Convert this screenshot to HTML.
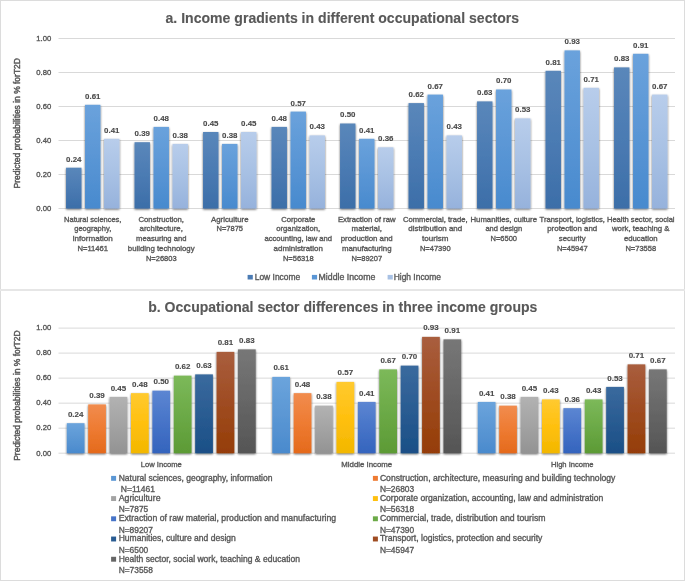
<!DOCTYPE html>
<html><head><meta charset="utf-8"><style>
html,body{margin:0;padding:0;background:#fff;}
svg{display:block;font-family:"Liberation Sans",sans-serif;filter:blur(0.35px);}
</style></head><body>
<svg width="685" height="581" viewBox="0 0 685 581">
<defs><linearGradient id="ga0" x1="0" y1="0" x2="0" y2="1"><stop offset="0" stop-color="#5a87ba"/><stop offset="0.5" stop-color="#4b7bb3"/><stop offset="1" stop-color="#3c6ea8"/></linearGradient><linearGradient id="ga1" x1="0" y1="0" x2="0" y2="1"><stop offset="0" stop-color="#6aa2dc"/><stop offset="0.5" stop-color="#5a96d5"/><stop offset="1" stop-color="#488ace"/></linearGradient><linearGradient id="ga2" x1="0" y1="0" x2="0" y2="1"><stop offset="0" stop-color="#b8cdeb"/><stop offset="0.5" stop-color="#a8c1e4"/><stop offset="1" stop-color="#96b2dc"/></linearGradient><linearGradient id="gb0" x1="0" y1="0" x2="0" y2="1"><stop offset="0" stop-color="#6ba4dc"/><stop offset="0.5" stop-color="#5b97d4"/><stop offset="1" stop-color="#4a8acd"/></linearGradient><linearGradient id="gb1" x1="0" y1="0" x2="0" y2="1"><stop offset="0" stop-color="#f18c4e"/><stop offset="0.5" stop-color="#ee7b32"/><stop offset="1" stop-color="#e46a1c"/></linearGradient><linearGradient id="gb2" x1="0" y1="0" x2="0" y2="1"><stop offset="0" stop-color="#b2b2b2"/><stop offset="0.5" stop-color="#a3a3a3"/><stop offset="1" stop-color="#939393"/></linearGradient><linearGradient id="gb3" x1="0" y1="0" x2="0" y2="1"><stop offset="0" stop-color="#ffca30"/><stop offset="0.5" stop-color="#ffc00f"/><stop offset="1" stop-color="#f2b700"/></linearGradient><linearGradient id="gb4" x1="0" y1="0" x2="0" y2="1"><stop offset="0" stop-color="#5c86d2"/><stop offset="0.5" stop-color="#4774c8"/><stop offset="1" stop-color="#3464bd"/></linearGradient><linearGradient id="gb5" x1="0" y1="0" x2="0" y2="1"><stop offset="0" stop-color="#7cb95a"/><stop offset="0.5" stop-color="#6caa47"/><stop offset="1" stop-color="#5c9a35"/></linearGradient><linearGradient id="gb6" x1="0" y1="0" x2="0" y2="1"><stop offset="0" stop-color="#3a6a9e"/><stop offset="0.5" stop-color="#2a5c92"/><stop offset="1" stop-color="#1a4f86"/></linearGradient><linearGradient id="gb7" x1="0" y1="0" x2="0" y2="1"><stop offset="0" stop-color="#a95e3e"/><stop offset="0.5" stop-color="#9f4c22"/><stop offset="1" stop-color="#953d06"/></linearGradient><linearGradient id="gb8" x1="0" y1="0" x2="0" y2="1"><stop offset="0" stop-color="#777777"/><stop offset="0.5" stop-color="#666666"/><stop offset="1" stop-color="#555555"/></linearGradient><filter id="sh" x="-50%" y="-50%" width="200%" height="200%"><feGaussianBlur in="SourceAlpha" stdDeviation="1.0"/><feOffset dx="0" dy="0.6" result="b"/><feComponentTransfer><feFuncA type="linear" slope="0.62"/></feComponentTransfer><feMerge><feMergeNode/><feMergeNode in="SourceGraphic"/></feMerge></filter></defs>
<rect width="685" height="581" fill="#fff"/>
<rect x="0.5" y="0.5" width="684" height="580" fill="none" stroke="#dcdcdc"/>
<rect x="0" y="289" width="685" height="2" fill="#e6e6e6"/>
<text x="342.30" y="23.20" font-size="14.67" font-weight="bold" fill="#595959" stroke="#595959" stroke-width="0.12" text-anchor="middle" textLength="353.55" lengthAdjust="spacingAndGlyphs">a. Income gradients in different occupational sectors</text>
<line x1="58.5" y1="38.50" x2="675.0" y2="38.50" stroke="#d9d9d9" stroke-width="1"/>
<text x="51.20" y="40.80" font-size="7.56" fill="#595959" stroke="#595959" stroke-width="0.35" text-anchor="end" textLength="14.89" lengthAdjust="spacingAndGlyphs">1.00</text>
<line x1="58.5" y1="72.50" x2="675.0" y2="72.50" stroke="#d9d9d9" stroke-width="1"/>
<text x="51.20" y="74.80" font-size="7.56" fill="#595959" stroke="#595959" stroke-width="0.35" text-anchor="end" textLength="14.89" lengthAdjust="spacingAndGlyphs">0.80</text>
<line x1="58.5" y1="106.50" x2="675.0" y2="106.50" stroke="#d9d9d9" stroke-width="1"/>
<text x="51.20" y="108.80" font-size="7.56" fill="#595959" stroke="#595959" stroke-width="0.35" text-anchor="end" textLength="14.89" lengthAdjust="spacingAndGlyphs">0.60</text>
<line x1="58.5" y1="140.50" x2="675.0" y2="140.50" stroke="#d9d9d9" stroke-width="1"/>
<text x="51.20" y="142.80" font-size="7.56" fill="#595959" stroke="#595959" stroke-width="0.35" text-anchor="end" textLength="14.89" lengthAdjust="spacingAndGlyphs">0.40</text>
<line x1="58.5" y1="174.50" x2="675.0" y2="174.50" stroke="#d9d9d9" stroke-width="1"/>
<text x="51.20" y="176.80" font-size="7.56" fill="#595959" stroke="#595959" stroke-width="0.35" text-anchor="end" textLength="14.89" lengthAdjust="spacingAndGlyphs">0.20</text>
<line x1="58.5" y1="208.50" x2="675.0" y2="208.50" stroke="#d9d9d9" stroke-width="1"/>
<text x="51.20" y="210.80" font-size="7.56" fill="#595959" stroke="#595959" stroke-width="0.35" text-anchor="end" textLength="14.89" lengthAdjust="spacingAndGlyphs">0.00</text>
<text x="20.30" y="123.30" font-size="8.34" fill="#595959" stroke="#595959" stroke-width="0.45" text-anchor="middle" textLength="130.41" lengthAdjust="spacingAndGlyphs" transform="rotate(-90 20.30 123.30)">Predicted probabilities in % forT2D</text>
<text x="92.75" y="221.50" font-size="7.51" fill="#595959" stroke="#595959" stroke-width="0.35" text-anchor="middle" textLength="57.33" lengthAdjust="spacingAndGlyphs">Natural sciences,</text>
<text x="92.75" y="231.35" font-size="7.51" fill="#595959" stroke="#595959" stroke-width="0.35" text-anchor="middle" textLength="36.98" lengthAdjust="spacingAndGlyphs">geography,</text>
<text x="92.75" y="241.20" font-size="7.51" fill="#595959" stroke="#595959" stroke-width="0.35" text-anchor="middle" textLength="39.98" lengthAdjust="spacingAndGlyphs">information</text>
<text x="92.75" y="251.05" font-size="7.51" fill="#595959" stroke="#595959" stroke-width="0.35" text-anchor="middle" textLength="30.71" lengthAdjust="spacingAndGlyphs">N=11461</text>
<text x="161.25" y="221.50" font-size="7.51" fill="#595959" stroke="#595959" stroke-width="0.35" text-anchor="middle" textLength="45.57" lengthAdjust="spacingAndGlyphs">Construction,</text>
<text x="161.25" y="231.35" font-size="7.51" fill="#595959" stroke="#595959" stroke-width="0.35" text-anchor="middle" textLength="43.24" lengthAdjust="spacingAndGlyphs">architecture,</text>
<text x="161.25" y="241.20" font-size="7.51" fill="#595959" stroke="#595959" stroke-width="0.35" text-anchor="middle" textLength="50.28" lengthAdjust="spacingAndGlyphs">measuring and</text>
<text x="161.25" y="251.05" font-size="7.51" fill="#595959" stroke="#595959" stroke-width="0.35" text-anchor="middle" textLength="66.72" lengthAdjust="spacingAndGlyphs">building technology</text>
<text x="161.25" y="260.90" font-size="7.51" fill="#595959" stroke="#595959" stroke-width="0.35" text-anchor="middle" textLength="30.71" lengthAdjust="spacingAndGlyphs">N=26803</text>
<text x="229.75" y="221.50" font-size="7.51" fill="#595959" stroke="#595959" stroke-width="0.35" text-anchor="middle" textLength="37.56" lengthAdjust="spacingAndGlyphs">Agriculture</text>
<text x="229.75" y="231.35" font-size="7.51" fill="#595959" stroke="#595959" stroke-width="0.35" text-anchor="middle" textLength="26.48" lengthAdjust="spacingAndGlyphs">N=7875</text>
<text x="298.25" y="221.50" font-size="7.51" fill="#595959" stroke="#595959" stroke-width="0.35" text-anchor="middle" textLength="34.08" lengthAdjust="spacingAndGlyphs">Corporate</text>
<text x="298.25" y="231.35" font-size="7.51" fill="#595959" stroke="#595959" stroke-width="0.35" text-anchor="middle" textLength="43.89" lengthAdjust="spacingAndGlyphs">organization,</text>
<text x="298.25" y="241.20" font-size="7.51" fill="#595959" stroke="#595959" stroke-width="0.35" text-anchor="middle" textLength="67.62" lengthAdjust="spacingAndGlyphs">accounting, law and</text>
<text x="298.25" y="251.05" font-size="7.51" fill="#595959" stroke="#595959" stroke-width="0.35" text-anchor="middle" textLength="49.35" lengthAdjust="spacingAndGlyphs">administration</text>
<text x="298.25" y="260.90" font-size="7.51" fill="#595959" stroke="#595959" stroke-width="0.35" text-anchor="middle" textLength="30.71" lengthAdjust="spacingAndGlyphs">N=56318</text>
<text x="366.75" y="221.50" font-size="7.51" fill="#595959" stroke="#595959" stroke-width="0.35" text-anchor="middle" textLength="57.61" lengthAdjust="spacingAndGlyphs">Extraction of raw</text>
<text x="366.75" y="231.35" font-size="7.51" fill="#595959" stroke="#595959" stroke-width="0.35" text-anchor="middle" textLength="30.28" lengthAdjust="spacingAndGlyphs">material,</text>
<text x="366.75" y="241.20" font-size="7.51" fill="#595959" stroke="#595959" stroke-width="0.35" text-anchor="middle" textLength="51.98" lengthAdjust="spacingAndGlyphs">production and</text>
<text x="366.75" y="251.05" font-size="7.51" fill="#595959" stroke="#595959" stroke-width="0.35" text-anchor="middle" textLength="49.69" lengthAdjust="spacingAndGlyphs">manufacturing</text>
<text x="366.75" y="260.90" font-size="7.51" fill="#595959" stroke="#595959" stroke-width="0.35" text-anchor="middle" textLength="30.71" lengthAdjust="spacingAndGlyphs">N=89207</text>
<text x="435.25" y="221.50" font-size="7.51" fill="#595959" stroke="#595959" stroke-width="0.35" text-anchor="middle" textLength="64.64" lengthAdjust="spacingAndGlyphs">Commercial, trade,</text>
<text x="435.25" y="231.35" font-size="7.51" fill="#595959" stroke="#595959" stroke-width="0.35" text-anchor="middle" textLength="53.98" lengthAdjust="spacingAndGlyphs">distribution and</text>
<text x="435.25" y="241.20" font-size="7.51" fill="#595959" stroke="#595959" stroke-width="0.35" text-anchor="middle" textLength="26.27" lengthAdjust="spacingAndGlyphs">tourism</text>
<text x="435.25" y="251.05" font-size="7.51" fill="#595959" stroke="#595959" stroke-width="0.35" text-anchor="middle" textLength="30.71" lengthAdjust="spacingAndGlyphs">N=47390</text>
<text x="503.75" y="221.50" font-size="7.51" fill="#595959" stroke="#595959" stroke-width="0.35" text-anchor="middle" textLength="66.58" lengthAdjust="spacingAndGlyphs">Humanities, culture</text>
<text x="503.75" y="231.35" font-size="7.51" fill="#595959" stroke="#595959" stroke-width="0.35" text-anchor="middle" textLength="36.70" lengthAdjust="spacingAndGlyphs">and design</text>
<text x="503.75" y="241.20" font-size="7.51" fill="#595959" stroke="#595959" stroke-width="0.35" text-anchor="middle" textLength="26.48" lengthAdjust="spacingAndGlyphs">N=6500</text>
<text x="572.25" y="221.50" font-size="7.51" fill="#595959" stroke="#595959" stroke-width="0.35" text-anchor="middle" textLength="65.29" lengthAdjust="spacingAndGlyphs">Transport, logistics,</text>
<text x="572.25" y="231.35" font-size="7.51" fill="#595959" stroke="#595959" stroke-width="0.35" text-anchor="middle" textLength="50.06" lengthAdjust="spacingAndGlyphs">protection and</text>
<text x="572.25" y="241.20" font-size="7.51" fill="#595959" stroke="#595959" stroke-width="0.35" text-anchor="middle" textLength="26.74" lengthAdjust="spacingAndGlyphs">security</text>
<text x="572.25" y="251.05" font-size="7.51" fill="#595959" stroke="#595959" stroke-width="0.35" text-anchor="middle" textLength="30.71" lengthAdjust="spacingAndGlyphs">N=45947</text>
<text x="640.75" y="221.50" font-size="7.51" fill="#595959" stroke="#595959" stroke-width="0.35" text-anchor="middle" textLength="67.61" lengthAdjust="spacingAndGlyphs">Health sector, social</text>
<text x="640.75" y="231.35" font-size="7.51" fill="#595959" stroke="#595959" stroke-width="0.35" text-anchor="middle" textLength="57.57" lengthAdjust="spacingAndGlyphs">work, teaching &amp;</text>
<text x="640.75" y="241.20" font-size="7.51" fill="#595959" stroke="#595959" stroke-width="0.35" text-anchor="middle" textLength="33.75" lengthAdjust="spacingAndGlyphs">education</text>
<text x="640.75" y="251.05" font-size="7.51" fill="#595959" stroke="#595959" stroke-width="0.35" text-anchor="middle" textLength="30.71" lengthAdjust="spacingAndGlyphs">N=73558</text>
<g filter="url(#sh)"><rect x="66.05" y="167.70" width="15.4" height="40.80" fill="url(#ga0)"/><rect x="85.05" y="104.80" width="15.4" height="103.70" fill="url(#ga1)"/><rect x="104.05" y="138.80" width="15.4" height="69.70" fill="url(#ga2)"/><rect x="134.55" y="142.20" width="15.4" height="66.30" fill="url(#ga0)"/><rect x="153.55" y="126.90" width="15.4" height="81.60" fill="url(#ga1)"/><rect x="172.55" y="143.90" width="15.4" height="64.60" fill="url(#ga2)"/><rect x="203.05" y="132.00" width="15.4" height="76.50" fill="url(#ga0)"/><rect x="222.05" y="143.90" width="15.4" height="64.60" fill="url(#ga1)"/><rect x="241.05" y="132.00" width="15.4" height="76.50" fill="url(#ga2)"/><rect x="271.55" y="126.90" width="15.4" height="81.60" fill="url(#ga0)"/><rect x="290.55" y="111.60" width="15.4" height="96.90" fill="url(#ga1)"/><rect x="309.55" y="135.40" width="15.4" height="73.10" fill="url(#ga2)"/><rect x="340.05" y="123.50" width="15.4" height="85.00" fill="url(#ga0)"/><rect x="359.05" y="138.80" width="15.4" height="69.70" fill="url(#ga1)"/><rect x="378.05" y="147.30" width="15.4" height="61.20" fill="url(#ga2)"/><rect x="408.55" y="103.10" width="15.4" height="105.40" fill="url(#ga0)"/><rect x="427.55" y="94.60" width="15.4" height="113.90" fill="url(#ga1)"/><rect x="446.55" y="135.40" width="15.4" height="73.10" fill="url(#ga2)"/><rect x="477.05" y="101.40" width="15.4" height="107.10" fill="url(#ga0)"/><rect x="496.05" y="89.50" width="15.4" height="119.00" fill="url(#ga1)"/><rect x="515.05" y="118.40" width="15.4" height="90.10" fill="url(#ga2)"/><rect x="545.55" y="70.80" width="15.4" height="137.70" fill="url(#ga0)"/><rect x="564.55" y="50.40" width="15.4" height="158.10" fill="url(#ga1)"/><rect x="583.55" y="87.80" width="15.4" height="120.70" fill="url(#ga2)"/><rect x="614.05" y="67.40" width="15.4" height="141.10" fill="url(#ga0)"/><rect x="633.05" y="53.80" width="15.4" height="154.70" fill="url(#ga1)"/><rect x="652.05" y="94.60" width="15.4" height="113.90" fill="url(#ga2)"/></g>
<text x="73.75" y="161.60" font-size="7.74" font-weight="bold" fill="#4a4a4a" stroke="#4a4a4a" stroke-width="0.12" text-anchor="middle" textLength="15.37" lengthAdjust="spacingAndGlyphs">0.24</text>
<text x="92.75" y="98.70" font-size="7.74" font-weight="bold" fill="#4a4a4a" stroke="#4a4a4a" stroke-width="0.12" text-anchor="middle" textLength="15.37" lengthAdjust="spacingAndGlyphs">0.61</text>
<text x="111.75" y="132.70" font-size="7.74" font-weight="bold" fill="#4a4a4a" stroke="#4a4a4a" stroke-width="0.12" text-anchor="middle" textLength="15.37" lengthAdjust="spacingAndGlyphs">0.41</text>
<text x="142.25" y="136.10" font-size="7.74" font-weight="bold" fill="#4a4a4a" stroke="#4a4a4a" stroke-width="0.12" text-anchor="middle" textLength="15.37" lengthAdjust="spacingAndGlyphs">0.39</text>
<text x="161.25" y="120.80" font-size="7.74" font-weight="bold" fill="#4a4a4a" stroke="#4a4a4a" stroke-width="0.12" text-anchor="middle" textLength="15.37" lengthAdjust="spacingAndGlyphs">0.48</text>
<text x="180.25" y="137.80" font-size="7.74" font-weight="bold" fill="#4a4a4a" stroke="#4a4a4a" stroke-width="0.12" text-anchor="middle" textLength="15.37" lengthAdjust="spacingAndGlyphs">0.38</text>
<text x="210.75" y="125.90" font-size="7.74" font-weight="bold" fill="#4a4a4a" stroke="#4a4a4a" stroke-width="0.12" text-anchor="middle" textLength="15.37" lengthAdjust="spacingAndGlyphs">0.45</text>
<text x="229.75" y="137.80" font-size="7.74" font-weight="bold" fill="#4a4a4a" stroke="#4a4a4a" stroke-width="0.12" text-anchor="middle" textLength="15.37" lengthAdjust="spacingAndGlyphs">0.38</text>
<text x="248.75" y="125.90" font-size="7.74" font-weight="bold" fill="#4a4a4a" stroke="#4a4a4a" stroke-width="0.12" text-anchor="middle" textLength="15.37" lengthAdjust="spacingAndGlyphs">0.45</text>
<text x="279.25" y="120.80" font-size="7.74" font-weight="bold" fill="#4a4a4a" stroke="#4a4a4a" stroke-width="0.12" text-anchor="middle" textLength="15.37" lengthAdjust="spacingAndGlyphs">0.48</text>
<text x="298.25" y="105.50" font-size="7.74" font-weight="bold" fill="#4a4a4a" stroke="#4a4a4a" stroke-width="0.12" text-anchor="middle" textLength="15.37" lengthAdjust="spacingAndGlyphs">0.57</text>
<text x="317.25" y="129.30" font-size="7.74" font-weight="bold" fill="#4a4a4a" stroke="#4a4a4a" stroke-width="0.12" text-anchor="middle" textLength="15.37" lengthAdjust="spacingAndGlyphs">0.43</text>
<text x="347.75" y="117.40" font-size="7.74" font-weight="bold" fill="#4a4a4a" stroke="#4a4a4a" stroke-width="0.12" text-anchor="middle" textLength="15.37" lengthAdjust="spacingAndGlyphs">0.50</text>
<text x="366.75" y="132.70" font-size="7.74" font-weight="bold" fill="#4a4a4a" stroke="#4a4a4a" stroke-width="0.12" text-anchor="middle" textLength="15.37" lengthAdjust="spacingAndGlyphs">0.41</text>
<text x="385.75" y="141.20" font-size="7.74" font-weight="bold" fill="#4a4a4a" stroke="#4a4a4a" stroke-width="0.12" text-anchor="middle" textLength="15.37" lengthAdjust="spacingAndGlyphs">0.36</text>
<text x="416.25" y="97.00" font-size="7.74" font-weight="bold" fill="#4a4a4a" stroke="#4a4a4a" stroke-width="0.12" text-anchor="middle" textLength="15.37" lengthAdjust="spacingAndGlyphs">0.62</text>
<text x="435.25" y="88.50" font-size="7.74" font-weight="bold" fill="#4a4a4a" stroke="#4a4a4a" stroke-width="0.12" text-anchor="middle" textLength="15.37" lengthAdjust="spacingAndGlyphs">0.67</text>
<text x="454.25" y="129.30" font-size="7.74" font-weight="bold" fill="#4a4a4a" stroke="#4a4a4a" stroke-width="0.12" text-anchor="middle" textLength="15.37" lengthAdjust="spacingAndGlyphs">0.43</text>
<text x="484.75" y="95.30" font-size="7.74" font-weight="bold" fill="#4a4a4a" stroke="#4a4a4a" stroke-width="0.12" text-anchor="middle" textLength="15.37" lengthAdjust="spacingAndGlyphs">0.63</text>
<text x="503.75" y="83.40" font-size="7.74" font-weight="bold" fill="#4a4a4a" stroke="#4a4a4a" stroke-width="0.12" text-anchor="middle" textLength="15.37" lengthAdjust="spacingAndGlyphs">0.70</text>
<text x="522.75" y="112.30" font-size="7.74" font-weight="bold" fill="#4a4a4a" stroke="#4a4a4a" stroke-width="0.12" text-anchor="middle" textLength="15.37" lengthAdjust="spacingAndGlyphs">0.53</text>
<text x="553.25" y="64.70" font-size="7.74" font-weight="bold" fill="#4a4a4a" stroke="#4a4a4a" stroke-width="0.12" text-anchor="middle" textLength="15.37" lengthAdjust="spacingAndGlyphs">0.81</text>
<text x="572.25" y="44.30" font-size="7.74" font-weight="bold" fill="#4a4a4a" stroke="#4a4a4a" stroke-width="0.12" text-anchor="middle" textLength="15.37" lengthAdjust="spacingAndGlyphs">0.93</text>
<text x="591.25" y="81.70" font-size="7.74" font-weight="bold" fill="#4a4a4a" stroke="#4a4a4a" stroke-width="0.12" text-anchor="middle" textLength="15.37" lengthAdjust="spacingAndGlyphs">0.71</text>
<text x="621.75" y="61.30" font-size="7.74" font-weight="bold" fill="#4a4a4a" stroke="#4a4a4a" stroke-width="0.12" text-anchor="middle" textLength="15.37" lengthAdjust="spacingAndGlyphs">0.83</text>
<text x="640.75" y="47.70" font-size="7.74" font-weight="bold" fill="#4a4a4a" stroke="#4a4a4a" stroke-width="0.12" text-anchor="middle" textLength="15.37" lengthAdjust="spacingAndGlyphs">0.91</text>
<text x="659.75" y="88.50" font-size="7.74" font-weight="bold" fill="#4a4a4a" stroke="#4a4a4a" stroke-width="0.12" text-anchor="middle" textLength="15.37" lengthAdjust="spacingAndGlyphs">0.67</text>
<rect x="247.6" y="274.90" width="5.2" height="4.6" fill="#4b7bb3"/>
<text x="254.70" y="279.50" font-size="8.37" fill="#595959" stroke="#595959" stroke-width="0.35" text-anchor="start" textLength="45.57" lengthAdjust="spacingAndGlyphs">Low Income</text>
<rect x="311.9" y="274.90" width="5.2" height="4.6" fill="#5a96d5"/>
<text x="318.60" y="279.50" font-size="8.37" fill="#595959" stroke="#595959" stroke-width="0.35" text-anchor="start" textLength="56.77" lengthAdjust="spacingAndGlyphs">Middle Income</text>
<rect x="387.6" y="274.90" width="5.2" height="4.6" fill="#a8c1e4"/>
<text x="393.70" y="279.50" font-size="8.37" fill="#595959" stroke="#595959" stroke-width="0.35" text-anchor="start" textLength="47.34" lengthAdjust="spacingAndGlyphs">High Income</text>
<text x="342.80" y="311.90" font-size="14.67" font-weight="bold" fill="#595959" stroke="#595959" stroke-width="0.12" text-anchor="middle" textLength="389.08" lengthAdjust="spacingAndGlyphs">b. Occupational sector differences in three income groups</text>
<line x1="58.5" y1="328.10" x2="675.0" y2="328.10" stroke="#d9d9d9" stroke-width="1"/>
<text x="51.20" y="330.40" font-size="7.56" fill="#595959" stroke="#595959" stroke-width="0.35" text-anchor="end" textLength="14.89" lengthAdjust="spacingAndGlyphs">1.00</text>
<line x1="58.5" y1="353.12" x2="675.0" y2="353.12" stroke="#d9d9d9" stroke-width="1"/>
<text x="51.20" y="355.42" font-size="7.56" fill="#595959" stroke="#595959" stroke-width="0.35" text-anchor="end" textLength="14.89" lengthAdjust="spacingAndGlyphs">0.80</text>
<line x1="58.5" y1="378.14" x2="675.0" y2="378.14" stroke="#d9d9d9" stroke-width="1"/>
<text x="51.20" y="380.44" font-size="7.56" fill="#595959" stroke="#595959" stroke-width="0.35" text-anchor="end" textLength="14.89" lengthAdjust="spacingAndGlyphs">0.60</text>
<line x1="58.5" y1="403.16" x2="675.0" y2="403.16" stroke="#d9d9d9" stroke-width="1"/>
<text x="51.20" y="405.46" font-size="7.56" fill="#595959" stroke="#595959" stroke-width="0.35" text-anchor="end" textLength="14.89" lengthAdjust="spacingAndGlyphs">0.40</text>
<line x1="58.5" y1="428.18" x2="675.0" y2="428.18" stroke="#d9d9d9" stroke-width="1"/>
<text x="51.20" y="430.48" font-size="7.56" fill="#595959" stroke="#595959" stroke-width="0.35" text-anchor="end" textLength="14.89" lengthAdjust="spacingAndGlyphs">0.20</text>
<line x1="58.5" y1="453.20" x2="675.0" y2="453.20" stroke="#d9d9d9" stroke-width="1"/>
<text x="51.20" y="455.50" font-size="7.56" fill="#595959" stroke="#595959" stroke-width="0.35" text-anchor="end" textLength="14.89" lengthAdjust="spacingAndGlyphs">0.00</text>
<text x="20.30" y="395.60" font-size="8.34" fill="#595959" stroke="#595959" stroke-width="0.45" text-anchor="middle" textLength="130.41" lengthAdjust="spacingAndGlyphs" transform="rotate(-90 20.30 395.60)">Predicted probabilities in % forT2D</text>
<text x="161.25" y="466.70" font-size="7.51" fill="#595959" stroke="#595959" stroke-width="0.35" text-anchor="middle" textLength="40.92" lengthAdjust="spacingAndGlyphs">Low Income</text>
<text x="366.75" y="466.70" font-size="7.51" fill="#595959" stroke="#595959" stroke-width="0.35" text-anchor="middle" textLength="50.97" lengthAdjust="spacingAndGlyphs">Middle Income</text>
<text x="572.25" y="466.70" font-size="7.51" fill="#595959" stroke="#595959" stroke-width="0.35" text-anchor="middle" textLength="42.51" lengthAdjust="spacingAndGlyphs">High Income</text>
<g filter="url(#sh)"><rect x="66.80" y="423.18" width="17.7" height="30.02" fill="url(#gb0)"/><rect x="88.20" y="404.41" width="17.7" height="48.79" fill="url(#gb1)"/><rect x="109.60" y="396.90" width="17.7" height="56.30" fill="url(#gb2)"/><rect x="131.00" y="393.15" width="17.7" height="60.05" fill="url(#gb3)"/><rect x="152.40" y="390.65" width="17.7" height="62.55" fill="url(#gb4)"/><rect x="173.80" y="375.64" width="17.7" height="77.56" fill="url(#gb5)"/><rect x="195.20" y="374.39" width="17.7" height="78.81" fill="url(#gb6)"/><rect x="216.60" y="351.87" width="17.7" height="101.33" fill="url(#gb7)"/><rect x="238.00" y="349.37" width="17.7" height="103.83" fill="url(#gb8)"/><rect x="272.30" y="376.89" width="17.7" height="76.31" fill="url(#gb0)"/><rect x="293.70" y="393.15" width="17.7" height="60.05" fill="url(#gb1)"/><rect x="315.10" y="405.66" width="17.7" height="47.54" fill="url(#gb2)"/><rect x="336.50" y="381.89" width="17.7" height="71.31" fill="url(#gb3)"/><rect x="357.90" y="401.91" width="17.7" height="51.29" fill="url(#gb4)"/><rect x="379.30" y="369.38" width="17.7" height="83.82" fill="url(#gb5)"/><rect x="400.70" y="365.63" width="17.7" height="87.57" fill="url(#gb6)"/><rect x="422.10" y="336.86" width="17.7" height="116.34" fill="url(#gb7)"/><rect x="443.50" y="339.36" width="17.7" height="113.84" fill="url(#gb8)"/><rect x="477.80" y="401.91" width="17.7" height="51.29" fill="url(#gb0)"/><rect x="499.20" y="405.66" width="17.7" height="47.54" fill="url(#gb1)"/><rect x="520.60" y="396.90" width="17.7" height="56.30" fill="url(#gb2)"/><rect x="542.00" y="399.41" width="17.7" height="53.79" fill="url(#gb3)"/><rect x="563.40" y="408.16" width="17.7" height="45.04" fill="url(#gb4)"/><rect x="584.80" y="399.41" width="17.7" height="53.79" fill="url(#gb5)"/><rect x="606.20" y="386.90" width="17.7" height="66.30" fill="url(#gb6)"/><rect x="627.60" y="364.38" width="17.7" height="88.82" fill="url(#gb7)"/><rect x="649.00" y="369.38" width="17.7" height="83.82" fill="url(#gb8)"/></g>
<text x="75.65" y="416.78" font-size="7.83" font-weight="bold" fill="#4a4a4a" stroke="#4a4a4a" stroke-width="0.12" text-anchor="middle" textLength="15.55" lengthAdjust="spacingAndGlyphs">0.24</text>
<text x="97.05" y="398.01" font-size="7.83" font-weight="bold" fill="#4a4a4a" stroke="#4a4a4a" stroke-width="0.12" text-anchor="middle" textLength="15.55" lengthAdjust="spacingAndGlyphs">0.39</text>
<text x="118.45" y="390.50" font-size="7.83" font-weight="bold" fill="#4a4a4a" stroke="#4a4a4a" stroke-width="0.12" text-anchor="middle" textLength="15.55" lengthAdjust="spacingAndGlyphs">0.45</text>
<text x="139.85" y="386.75" font-size="7.83" font-weight="bold" fill="#4a4a4a" stroke="#4a4a4a" stroke-width="0.12" text-anchor="middle" textLength="15.55" lengthAdjust="spacingAndGlyphs">0.48</text>
<text x="161.25" y="384.25" font-size="7.83" font-weight="bold" fill="#4a4a4a" stroke="#4a4a4a" stroke-width="0.12" text-anchor="middle" textLength="15.55" lengthAdjust="spacingAndGlyphs">0.50</text>
<text x="182.65" y="369.24" font-size="7.83" font-weight="bold" fill="#4a4a4a" stroke="#4a4a4a" stroke-width="0.12" text-anchor="middle" textLength="15.55" lengthAdjust="spacingAndGlyphs">0.62</text>
<text x="204.05" y="367.99" font-size="7.83" font-weight="bold" fill="#4a4a4a" stroke="#4a4a4a" stroke-width="0.12" text-anchor="middle" textLength="15.55" lengthAdjust="spacingAndGlyphs">0.63</text>
<text x="225.45" y="345.47" font-size="7.83" font-weight="bold" fill="#4a4a4a" stroke="#4a4a4a" stroke-width="0.12" text-anchor="middle" textLength="15.55" lengthAdjust="spacingAndGlyphs">0.81</text>
<text x="246.85" y="342.97" font-size="7.83" font-weight="bold" fill="#4a4a4a" stroke="#4a4a4a" stroke-width="0.12" text-anchor="middle" textLength="15.55" lengthAdjust="spacingAndGlyphs">0.83</text>
<text x="281.15" y="370.49" font-size="7.83" font-weight="bold" fill="#4a4a4a" stroke="#4a4a4a" stroke-width="0.12" text-anchor="middle" textLength="15.55" lengthAdjust="spacingAndGlyphs">0.61</text>
<text x="302.55" y="386.75" font-size="7.83" font-weight="bold" fill="#4a4a4a" stroke="#4a4a4a" stroke-width="0.12" text-anchor="middle" textLength="15.55" lengthAdjust="spacingAndGlyphs">0.48</text>
<text x="323.95" y="399.26" font-size="7.83" font-weight="bold" fill="#4a4a4a" stroke="#4a4a4a" stroke-width="0.12" text-anchor="middle" textLength="15.55" lengthAdjust="spacingAndGlyphs">0.38</text>
<text x="345.35" y="375.49" font-size="7.83" font-weight="bold" fill="#4a4a4a" stroke="#4a4a4a" stroke-width="0.12" text-anchor="middle" textLength="15.55" lengthAdjust="spacingAndGlyphs">0.57</text>
<text x="366.75" y="395.51" font-size="7.83" font-weight="bold" fill="#4a4a4a" stroke="#4a4a4a" stroke-width="0.12" text-anchor="middle" textLength="15.55" lengthAdjust="spacingAndGlyphs">0.41</text>
<text x="388.15" y="362.98" font-size="7.83" font-weight="bold" fill="#4a4a4a" stroke="#4a4a4a" stroke-width="0.12" text-anchor="middle" textLength="15.55" lengthAdjust="spacingAndGlyphs">0.67</text>
<text x="409.55" y="359.23" font-size="7.83" font-weight="bold" fill="#4a4a4a" stroke="#4a4a4a" stroke-width="0.12" text-anchor="middle" textLength="15.55" lengthAdjust="spacingAndGlyphs">0.70</text>
<text x="430.95" y="330.46" font-size="7.83" font-weight="bold" fill="#4a4a4a" stroke="#4a4a4a" stroke-width="0.12" text-anchor="middle" textLength="15.55" lengthAdjust="spacingAndGlyphs">0.93</text>
<text x="452.35" y="332.96" font-size="7.83" font-weight="bold" fill="#4a4a4a" stroke="#4a4a4a" stroke-width="0.12" text-anchor="middle" textLength="15.55" lengthAdjust="spacingAndGlyphs">0.91</text>
<text x="486.65" y="395.51" font-size="7.83" font-weight="bold" fill="#4a4a4a" stroke="#4a4a4a" stroke-width="0.12" text-anchor="middle" textLength="15.55" lengthAdjust="spacingAndGlyphs">0.41</text>
<text x="508.05" y="399.26" font-size="7.83" font-weight="bold" fill="#4a4a4a" stroke="#4a4a4a" stroke-width="0.12" text-anchor="middle" textLength="15.55" lengthAdjust="spacingAndGlyphs">0.38</text>
<text x="529.45" y="390.50" font-size="7.83" font-weight="bold" fill="#4a4a4a" stroke="#4a4a4a" stroke-width="0.12" text-anchor="middle" textLength="15.55" lengthAdjust="spacingAndGlyphs">0.45</text>
<text x="550.85" y="393.01" font-size="7.83" font-weight="bold" fill="#4a4a4a" stroke="#4a4a4a" stroke-width="0.12" text-anchor="middle" textLength="15.55" lengthAdjust="spacingAndGlyphs">0.43</text>
<text x="572.25" y="401.76" font-size="7.83" font-weight="bold" fill="#4a4a4a" stroke="#4a4a4a" stroke-width="0.12" text-anchor="middle" textLength="15.55" lengthAdjust="spacingAndGlyphs">0.36</text>
<text x="593.65" y="393.01" font-size="7.83" font-weight="bold" fill="#4a4a4a" stroke="#4a4a4a" stroke-width="0.12" text-anchor="middle" textLength="15.55" lengthAdjust="spacingAndGlyphs">0.43</text>
<text x="615.05" y="380.50" font-size="7.83" font-weight="bold" fill="#4a4a4a" stroke="#4a4a4a" stroke-width="0.12" text-anchor="middle" textLength="15.55" lengthAdjust="spacingAndGlyphs">0.53</text>
<text x="636.45" y="357.98" font-size="7.83" font-weight="bold" fill="#4a4a4a" stroke="#4a4a4a" stroke-width="0.12" text-anchor="middle" textLength="15.55" lengthAdjust="spacingAndGlyphs">0.71</text>
<text x="657.85" y="362.98" font-size="7.83" font-weight="bold" fill="#4a4a4a" stroke="#4a4a4a" stroke-width="0.12" text-anchor="middle" textLength="15.55" lengthAdjust="spacingAndGlyphs">0.67</text>
<rect x="111.1" y="475.90" width="5.0" height="4.9" fill="#5b97d4"/>
<text x="118.70" y="480.80" font-size="8.37" fill="#595959" stroke="#595959" stroke-width="0.35" text-anchor="start" textLength="153.77" lengthAdjust="spacingAndGlyphs">Natural sciences, geography, information</text>
<text x="120.80" y="492.10" font-size="8.37" fill="#595959" stroke="#595959" stroke-width="0.35" text-anchor="start" textLength="34.21" lengthAdjust="spacingAndGlyphs">N=11461</text>
<rect x="372.9" y="475.90" width="5.0" height="4.9" fill="#ee7b32"/>
<text x="379.90" y="480.80" font-size="8.37" fill="#595959" stroke="#595959" stroke-width="0.35" text-anchor="start" textLength="235.53" lengthAdjust="spacingAndGlyphs">Construction, architecture, measuring and building technology</text>
<text x="379.90" y="492.10" font-size="8.37" fill="#595959" stroke="#595959" stroke-width="0.35" text-anchor="start" textLength="34.21" lengthAdjust="spacingAndGlyphs">N=26803</text>
<rect x="111.1" y="496.12" width="5.0" height="4.9" fill="#a3a3a3"/>
<text x="118.70" y="501.02" font-size="8.37" fill="#595959" stroke="#595959" stroke-width="0.35" text-anchor="start" textLength="41.84" lengthAdjust="spacingAndGlyphs">Agriculture</text>
<text x="118.70" y="512.32" font-size="8.37" fill="#595959" stroke="#595959" stroke-width="0.35" text-anchor="start" textLength="29.49" lengthAdjust="spacingAndGlyphs">N=7875</text>
<rect x="372.9" y="496.12" width="5.0" height="4.9" fill="#ffc00f"/>
<text x="379.90" y="501.02" font-size="8.37" fill="#595959" stroke="#595959" stroke-width="0.35" text-anchor="start" textLength="223.42" lengthAdjust="spacingAndGlyphs">Corporate organization, accounting, law and administration</text>
<text x="379.90" y="512.32" font-size="8.37" fill="#595959" stroke="#595959" stroke-width="0.35" text-anchor="start" textLength="34.21" lengthAdjust="spacingAndGlyphs">N=56318</text>
<rect x="111.1" y="516.34" width="5.0" height="4.9" fill="#4774c8"/>
<text x="118.70" y="521.24" font-size="8.37" fill="#595959" stroke="#595959" stroke-width="0.35" text-anchor="start" textLength="217.43" lengthAdjust="spacingAndGlyphs">Extraction of raw material, production and manufacturing</text>
<text x="118.70" y="532.54" font-size="8.37" fill="#595959" stroke="#595959" stroke-width="0.35" text-anchor="start" textLength="34.21" lengthAdjust="spacingAndGlyphs">N=89207</text>
<rect x="372.9" y="516.34" width="5.0" height="4.9" fill="#6caa47"/>
<text x="379.90" y="521.24" font-size="8.37" fill="#595959" stroke="#595959" stroke-width="0.35" text-anchor="start" textLength="165.58" lengthAdjust="spacingAndGlyphs">Commercial, trade, distribution and tourism</text>
<text x="379.90" y="532.54" font-size="8.37" fill="#595959" stroke="#595959" stroke-width="0.35" text-anchor="start" textLength="34.21" lengthAdjust="spacingAndGlyphs">N=47390</text>
<rect x="111.1" y="536.56" width="5.0" height="4.9" fill="#2a5c92"/>
<text x="118.70" y="541.46" font-size="8.37" fill="#595959" stroke="#595959" stroke-width="0.35" text-anchor="start" textLength="117.14" lengthAdjust="spacingAndGlyphs">Humanities, culture and design</text>
<text x="118.70" y="552.76" font-size="8.37" fill="#595959" stroke="#595959" stroke-width="0.35" text-anchor="start" textLength="29.49" lengthAdjust="spacingAndGlyphs">N=6500</text>
<rect x="372.9" y="536.56" width="5.0" height="4.9" fill="#9f4c22"/>
<text x="379.90" y="541.46" font-size="8.37" fill="#595959" stroke="#595959" stroke-width="0.35" text-anchor="start" textLength="162.47" lengthAdjust="spacingAndGlyphs">Transport, logistics, protection and security</text>
<text x="379.90" y="552.76" font-size="8.37" fill="#595959" stroke="#595959" stroke-width="0.35" text-anchor="start" textLength="34.21" lengthAdjust="spacingAndGlyphs">N=45947</text>
<rect x="111.1" y="556.78" width="5.0" height="4.9" fill="#666666"/>
<text x="118.70" y="561.68" font-size="8.37" fill="#595959" stroke="#595959" stroke-width="0.35" text-anchor="start" textLength="181.23" lengthAdjust="spacingAndGlyphs">Health sector, social work, teaching &amp; education</text>
<text x="118.70" y="572.98" font-size="8.37" fill="#595959" stroke="#595959" stroke-width="0.35" text-anchor="start" textLength="34.21" lengthAdjust="spacingAndGlyphs">N=73558</text>
</svg>
</body></html>
